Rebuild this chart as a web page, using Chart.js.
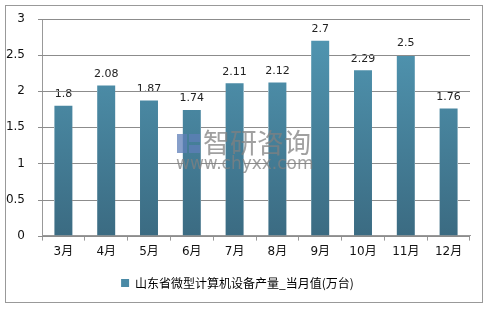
<!DOCTYPE html>
<html>
<head>
<meta charset="utf-8">
<script src="https://cdn.jsdelivr.net/npm/chart.js@4"></script>
<style>
  body { margin: 0; background: #fff; }
  #wrap { width: 489px; height: 309px; position: relative; }
</style>
</head>
<body>
<div id="wrap"><canvas id="myChart" width="489" height="309"></canvas></div>
<script>
const months = ["3月", "4月", "5月", "6月", "7月", "8月", "9月", "10月", "11月", "12月"];
const output = [1.8, 2.08, 1.87, 1.74, 2.11, 2.12, 2.7, 2.29, 2.5, 1.76];
const yTickLabels = ["0", "0.5", "1", "1.5", "2", "2.5", "3"];
const seriesName = "山东省微型计算机设备产量_当月值(万台)";

const FONT = "'DejaVu Sans', 'Noto Sans CJK SC', sans-serif";

// bar fill, lighter on top
const barFill = (ctx) => {
  const area = ctx.chart.chartArea;
  if (!area) return "#4a87a2";
  const g = ctx.chart.ctx.createLinearGradient(0, area.top, 0, area.bottom);
  g.addColorStop(0, "#5299b5");
  g.addColorStop(1, "#3b6b82");
  return g;
};

// horizontal grid lines from the y ticks, drawn last and kept out of the bars
const hGrid = {
  id: "hGrid",
  afterDraw(chart) {
    const c = chart.ctx;
    const y = chart.scales.y;
    const a = chart.chartArea;
    const meta = chart.getDatasetMeta(0);
    const left = Math.round(a.left);
    const right = Math.round(a.right);
    c.save();
    c.strokeStyle = "#8c8c8c";
    c.lineWidth = 1;
    y.ticks.forEach((t) => {
      const py = Math.round(y.getPixelForValue(t.value)) + 0.5;
      // segments between the bars that reach above this line
      let x0 = left - 4;
      meta.data.forEach((bar) => {
        if (bar.y < py - 1 && t.value > 0) {
          const bl = Math.round(bar.x - bar.width / 2);
          const br = Math.round(bar.x + bar.width / 2);
          c.beginPath();
          c.moveTo(x0, py);
          c.lineTo(bl, py);
          c.stroke();
          x0 = br;
        }
      });
      c.beginPath();
      c.moveTo(x0, py);
      c.lineTo(right, py);
      c.stroke();
    });
    c.restore();
  },
};

// numbers above bars
const valueLabels = {
  id: "valueLabels",
  afterDatasetsDraw(chart) {
    const c = chart.ctx;
    const meta = chart.getDatasetMeta(0);
    c.save();
    c.font = "11px " + FONT;
    c.fillStyle = "#222";
    c.textAlign = "center";
    c.textBaseline = "bottom";
    meta.data.forEach((bar, i) => {
      c.fillText(String(output[i]), bar.x, bar.y - 6);
    });
    c.restore();
  },
};

// frame and watermark
const frame = {
  id: "frame",
  afterDraw(chart) {
    const c = chart.ctx;
    c.save();
    c.strokeStyle = "#999";
    c.lineWidth = 1;
    c.strokeRect(5.5, 5.5, 477, 297);

    c.globalAlpha = 0.75;
    c.fillStyle = "#5f7fb8";
    c.fillRect(177, 134, 10, 19);
    c.fillRect(189, 134, 11, 8);
    c.fillRect(189, 145, 11, 8);
    c.fillStyle = "#808080";
    c.font = "27px 'Noto Sans CJK SC', sans-serif";
    c.textBaseline = "middle";
    c.fillText("智研咨询", 203, 143);
    c.font = "17px " + FONT;
    c.fillText("www.chyxx.com", 176, 165);
    c.restore();
  },
};

new Chart(document.getElementById("myChart").getContext("2d"), {
  type: "bar",
  data: {
    labels: months,
    datasets: [
      {
        label: seriesName,
        data: output,
        backgroundColor: barFill,
        barPercentage: 0.42,
        categoryPercentage: 1,
      },
    ],
  },
  options: {
    responsive: false,
    animation: false,
    layout: { padding: { left: 5, top: 19, right: 19, bottom: 10 } },
    plugins: {
      tooltip: { enabled: false },
      legend: {
        position: "bottom",
        labels: {
          boxWidth: 8,
          boxHeight: 8,
          color: "#111",
          padding: 14,
          font: { size: 12, family: "'Noto Sans CJK SC', sans-serif" },
          generateLabels: () => [
            { text: seriesName, fillStyle: "#4a8aa6", strokeStyle: "#4a8aa6", lineWidth: 0 },
          ],
        },
      },
    },
    scales: {
      x: {
        grid: { offset: true, drawOnChartArea: false, drawTicks: true, tickLength: 5, color: "#999" },
        border: { color: "#999" },
        ticks: { color: "#111", padding: 4, font: { size: 12, family: FONT } },
      },
      y: {
        min: 0,
        max: 3,
        afterFit: (s) => { s.width = 37; },
        grid: { display: false },
        border: { color: "#999" },
        ticks: {
          stepSize: 0.5,
          color: "#111",
          padding: 9,
          font: { size: 12, family: FONT },
          callback: (v, i) => yTickLabels[i],
        },
      },
    },
  },
  plugins: [valueLabels, hGrid, frame],
});
</script>
</body>
</html>
